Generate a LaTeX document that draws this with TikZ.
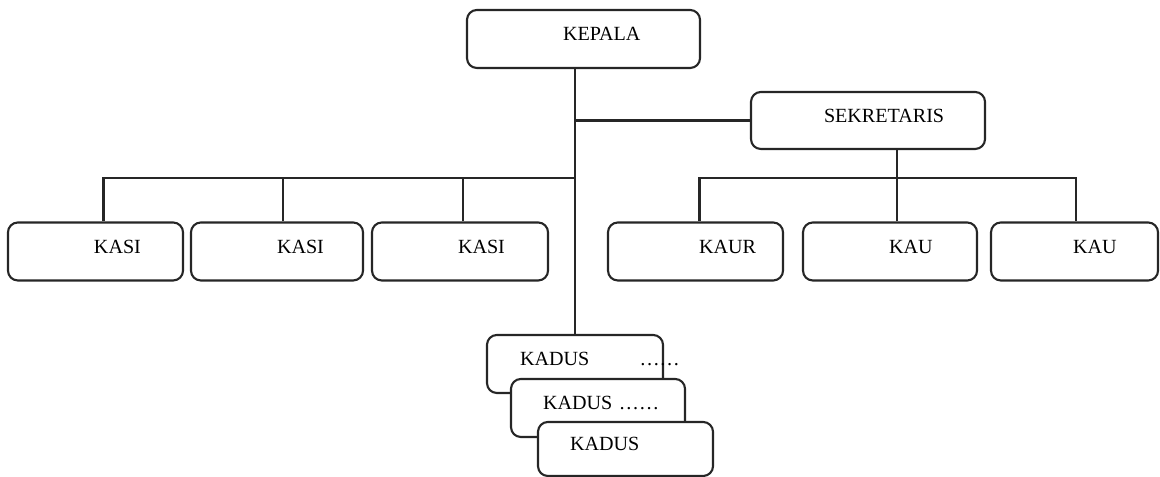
\documentclass[tikz,border=0pt]{standalone}
\usepackage{fontspec}
\setmainfont{Liberation Serif}
\newdimen\pxu
\pxu=0.025cm
\tikzset{
    every picture/.style={line width=1.5pt},
    box/.style={draw=black!85,fill=white,rounded corners=7pt,inner xsep=0pt,
        align=left,text width=#1\pxu,minimum height=58\pxu,text depth=7pt,
        font=\fontsize{14.3}{16}\selectfont},
    indent/.style={execute at begin node={\hspace*{#1\pxu}}},
    link/.style={draw=black!85}
}
\begin{document}
\begin{tikzpicture}[x=\pxu,y=-\pxu]
    \useasboundingbox (0,0) rectangle (1160,477);

    % top
    \node[box=233,indent=96] (kepala) at (583.5,39) {KEPALA};
    \node[box=234,indent=73,minimum height=57\pxu] (sekretaris) at (868,120.5) {SEKRETARIS};

    % kasi row
    \node[box=175,indent=86] (kasiA) at (95.5,251.5) {KASI};
    \node[box=172,indent=86] (kasiB) at (277,251.5) {KASI};
    \node[box=176,indent=86] (kasiC) at (460,251.5) {KASI};

    % kaur and kau row
    \node[box=175,indent=91] (kaur) at (695.5,251.5) {KAUR};
    \node[box=174,indent=86] (kauA) at (890,251.5) {KAU};
    \node[box=167,indent=82] (kauB) at (1074.5,251.5) {KAU};

    % kadus stack
    \node[box=176,indent=33] (kadusA) at (575,364) {\mbox{KADUS\hspace{31pt} ……}};
    \node[box=174,indent=32] (kadusB) at (598,408) {\mbox{KADUS ……}};
    \node[box=175,indent=32,minimum height=54\pxu] (kadusC) at (625.5,449) {KADUS};

    % lines
    \coordinate (busL) at (576,178);
    \coordinate (busR) at (1076,178);
    \draw[link] (kepala.south -| kadusA.north) -- (kadusA.north);
    \draw[link] (sekretaris.west) -- (sekretaris.west -| kadusA.north);
    \draw[link] ([xshift=8\pxu]kasiA.north) |- (busL);
    \draw[link] ([xshift=6\pxu]kasiB.north) -- ([xshift=6\pxu]kasiB.north |- busL);
    \draw[link] ([xshift=3\pxu]kasiC.north) -- ([xshift=3\pxu]kasiC.north |- busL);
    \draw[link] ([xshift=4\pxu]kaur.north) |- (busR) -- (busR |- kauB.north);
    \draw[link] ([xshift=7\pxu]kauA.north) -- ([xshift=7\pxu]kauA.north |- sekretaris.south);
\end{tikzpicture}
\end{document}
